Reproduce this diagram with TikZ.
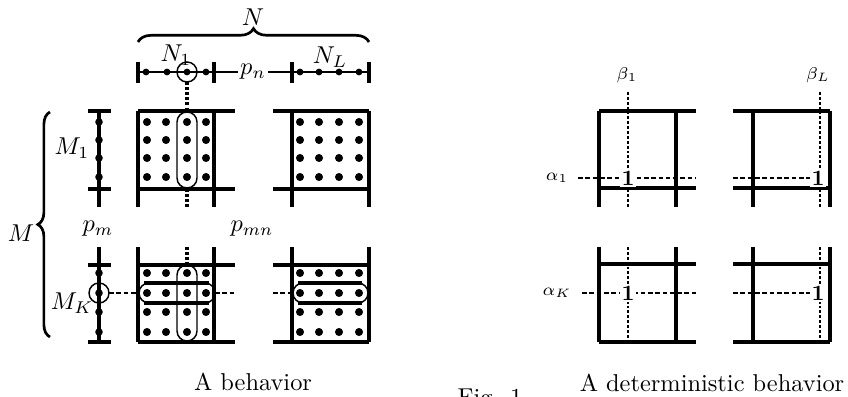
\documentclass[tikz,border=0pt]{standalone}
\usetikzlibrary{decorations.pathreplacing}
\begin{document}
\begin{tikzpicture}[x=0.41pt,y=-0.41pt,
  thk/.style={line width=1.35pt},
  rul/.style={line width=1.1pt},
  thn/.style={line width=0.6pt},
  dotl/.style={line width=1.3pt, dash pattern=on 1.2pt off 0.9pt},
  fdotl/.style={line width=0.9pt, dash pattern=on 1.2pt off 0.8pt},
  dashl/.style={line width=0.85pt, dash pattern=on 1.9pt off 1.1pt},
  lbl/.style={inner sep=0.5pt},
  one/.style={fill=white, inner sep=0.6pt, font=\small\bfseries},
  greek/.style={inner sep=0.5pt, font=\scriptsize},
]
\useasboundingbox (0,0) rectangle (848,397);

% ---------- left diagram ----------
% brace N
\draw[line width=1.1pt, decorate, decoration={brace, amplitude=5.5pt}] (138,42) -- (369,42);
\node[lbl] (N) at (253,17) {$N$};
% brace M
\draw[line width=1.1pt, decorate, decoration={brace, amplitude=5pt}] (50,337) -- (50,112);
\node[lbl] (M) at (21,233) {$M$};

% top ruler
\draw[rul] (138,72) -- (369,72);
\foreach \x in {138,214,292,369} \draw[thk] (\x,62) -- (\x,83);
\foreach \x in {146,167,187,206,300,319,339,359} \fill (\x,72) circle (1.4pt);
\draw[thn] (187,72) circle (4.1pt);
\node[fill=white, inner sep=1pt] (pn) at (253,72) {$p_n$};
\node[lbl] (N1) at (176,55) {$N_1$};
\node[lbl] (NL) at (330,57) {$N_L$};

% M rulers
\draw[thk] (99,111) -- (99,207);
\draw[thk] (88,111) -- (111,111);
\draw[thk] (88,189) -- (111,189);
\foreach \y in {122,140,158,177} \fill (99,\y) circle (1.55pt);
\draw[thk] (99,247) -- (99,342);
\draw[thk] (88,265) -- (111,265);
\draw[thk] (88,342) -- (111,342);
\foreach \y in {273,293,312,332} \fill (99,\y) circle (1.55pt);
\draw[thn] (99,293) circle (4.1pt);
\node[lbl] (M1) at (72,148) {$M_1$};
\node[lbl] (MK) at (72,303) {$M_K$};
\node[lbl] (pm) at (98,229) {$p_m$};
\node[lbl] (pmn) at (252,229) {$p_{mn}$};

% grids
\draw[thk] (138,111) -- (235,111) (138,189) -- (235,189) (138,111) -- (138,207) (214,111) -- (214,207);
\draw[thk] (273,111) -- (369,111) (273,189) -- (369,189) (292,111) -- (292,207) (369,111) -- (369,207);
\draw[thk] (138,265) -- (235,265) (138,342) -- (235,342) (138,247) -- (138,342) (214,247) -- (214,342);
\draw[thk] (273,265) -- (369,265) (273,342) -- (369,342) (292,247) -- (292,342) (369,247) -- (369,342);

% dots
\foreach \y in {122,140,158,177,273,293,312,332}{
  \foreach \x in {147,166,187,206,300,319,339,359}{
    \fill (\x,\y) circle (1.65pt);
  }
}

% stadiums
\draw[thn, rounded corners=4.1pt] (177,112) rectangle (197,188);
\draw[thn, rounded corners=4.1pt] (177,265) rectangle (197,341);
\draw[thn, rounded corners=4.1pt] (139,283) rectangle (215,303);
\draw[thk] (144,283) -- (209,283) (144,303) -- (209,303);
\draw[thn, rounded corners=4.1pt] (293,283) rectangle (368,303);
\draw[thk] (298,283) -- (362,283) (298,303) -- (362,303);

% dotted/dashed connectors
\coordinate (c1) at (187,82);
\coordinate (c2) at (187,111);
\draw[dotl] (c1) -- (c2);
\draw[dotl] (187,189) -- (187,207);
\draw[dotl] (187,247) -- (187,265);
\coordinate (k1) at (109,293);
\coordinate (k2) at (139,293);
\draw[dashl] (k1) -- (k2);
\draw[dashl] (215,293) -- (235,293);
\draw[dashl] (273,293) -- (293,293);

\node[anchor=base] (cap1) at (253,390) {A behavior};

% ---------- right diagram ----------
\draw[thk] (599,111) -- (696,111) (599,188) -- (696,188) (599,111) -- (599,207) (676,111) -- (676,207);
\draw[thk] (733,111) -- (830,111) (733,188) -- (830,188) (753,111) -- (753,207) (830,111) -- (830,207);
\draw[thk] (599,264) -- (696,264) (599,342) -- (696,342) (599,247) -- (599,342) (676,247) -- (676,342);
\draw[thk] (733,264) -- (830,264) (733,342) -- (830,342) (753,247) -- (753,342) (830,247) -- (830,342);

\draw[fdotl] (628,92) -- (628,207);
\draw[fdotl] (628,247) -- (628,342);
\draw[fdotl] (820,92) -- (820,207);
\draw[fdotl] (820,247) -- (820,342);

\draw[dashl] (578,178) -- (696,178);
\draw[dashl] (733,178) -- (830,178);
\draw[dashl] (582,293) -- (696,293);
\draw[dashl] (733,293) -- (830,293);

\node[one] (o1) at (628,178) {1};
\node[one] (o2) at (818,178) {1};
\node[one] (o3) at (628,293) {1};
\node[one] (o4) at (818,293) {1};

\node[greek] (b1) at (627,75) {$\beta_1$};
\node[greek] (bL) at (818,75) {$\beta_L$};
\node[greek] (a1) at (557,178) {$\alpha_1$};
\node[greek] (aK) at (557,293) {$\alpha_K$};

\node[anchor=base] (cap2) at (712,391) {A deterministic behavior};
\node[anchor=base] (fig) at (490,405) {Fig. 1};
\end{tikzpicture}
\end{document}
